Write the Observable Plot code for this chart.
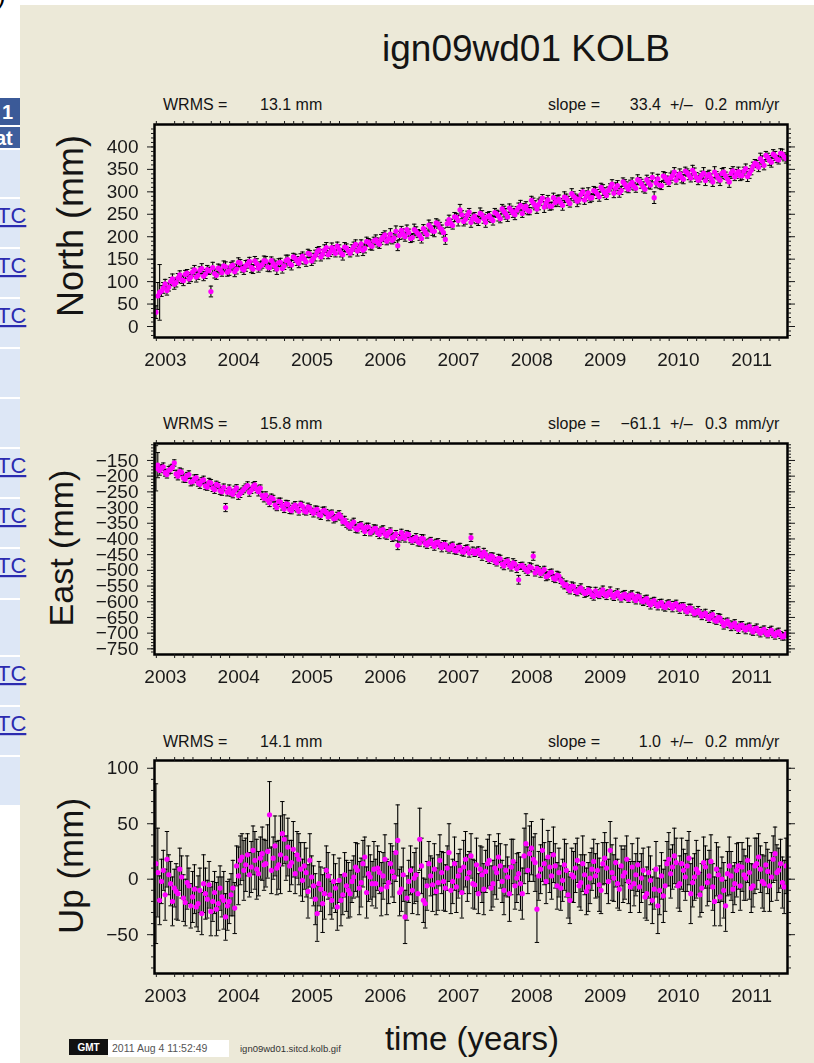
<!DOCTYPE html>
<html><head><meta charset="utf-8">
<script src="https://cdn.jsdelivr.net/npm/d3@7"></script>
<script src="https://cdn.jsdelivr.net/npm/@observablehq/plot@0.6"></script>
<style>
body{margin:0;width:814px;height:1063px;position:relative;overflow:hidden;background:#fff;font-family:"Liberation Sans",Arial,Helvetica,sans-serif;}
#bg{position:absolute;left:20px;top:5px;width:794px;height:1058px;background:#ECE9D8;}
.tbl{position:absolute;left:0;width:20px;overflow:hidden;}
.plot{position:absolute;left:0;filter:blur(0.35px);}
#overlay{position:absolute;left:0;top:0;}
</style></head><body>
<div id="bg"></div>
<div id="table"></div>
<div id="plots"></div>
<script>
// ---------------- data: epochs (decimal years), set A ----------------
const epochs = [
2002.87,2002.92,2002.97,2003.02,2003.07,2003.12,2003.17,2003.22,2003.27,2003.32,
2003.37,2003.42,2003.47,2003.52,2003.57,2003.62,2003.67,2003.72,2003.77,2003.82,
2003.87,2003.92,2003.97,2004.02,2004.07,2004.12,2004.17,2004.22,2004.27,2004.32,
2004.37,2004.42,2004.47,2004.52,2004.57,2004.62,2004.67,2004.72,2004.77,2004.82,
2004.87,2004.92,2004.97,2005.02,2005.07,2005.12,2005.17,2005.22,2005.27,2005.32,
2005.37,2005.42,2005.47,2005.52,2005.57,2005.62,2005.67,2005.72,2005.77,2005.82,
2005.87,2005.92,2005.97,2006.02,2006.07,2006.12,2006.17,2006.22,2006.27,2006.32,
2006.37,2006.42,2006.47,2006.52,2006.57,2006.62,2006.67,2006.72,2006.77,2006.82,
2006.87,2006.92,2006.97,2007.02,2007.07,2007.12,2007.17,2007.22,2007.27,2007.32,
2007.37,2007.42,2007.47,2007.52,2007.57,2007.62,2007.67,2007.72,2007.77,2007.82,
2007.87,2007.92,2007.97,2008.02,2008.07,2008.12,2008.17,2008.22,2008.27,2008.32,
2008.37,2008.42,2008.47,2008.52,2008.57,2008.62,2008.67,2008.72,2008.77,2008.82,
2008.87,2008.92,2008.97,2009.02,2009.07,2009.12,2009.17,2009.22,2009.27,2009.32,
2009.37,2009.42,2009.47,2009.52,2009.57,2009.62,2009.67,2009.72,2009.77,2009.82,
2009.87,2009.92,2009.97,2010.02,2010.07,2010.12,2010.17,2010.22,2010.27,2010.32,
2010.37,2010.42,2010.47,2010.52,2010.57,2010.62,2010.67,2010.72,2010.77,2010.82,
2010.87,2010.92,2010.97,2011.02,2011.07,2011.12,2011.17,2011.22,2011.27,2011.32,
2011.37,2011.42,2011.47];
// set B (the weeks in between)
const epochsB = [
2002.895,2002.945,2002.995,2003.045,2003.095,2003.145,2003.195,2003.245,2003.295,2003.345,
2003.395,2003.445,2003.495,2003.545,2003.595,2003.645,2003.695,2003.745,2003.795,2003.845,
2003.895,2003.945,2003.995,2004.045,2004.095,2004.145,2004.195,2004.245,2004.295,2004.345,
2004.395,2004.445,2004.495,2004.545,2004.595,2004.645,2004.695,2004.745,2004.795,2004.845,
2004.895,2004.945,2004.995,2005.045,2005.095,2005.145,2005.195,2005.245,2005.295,2005.345,
2005.395,2005.445,2005.495,2005.545,2005.595,2005.645,2005.695,2005.745,2005.795,2005.845,
2005.895,2005.945,2005.995,2006.045,2006.095,2006.145,2006.195,2006.245,2006.295,2006.345,
2006.395,2006.445,2006.495,2006.545,2006.595,2006.645,2006.695,2006.745,2006.795,2006.845,
2006.895,2006.945,2006.995,2007.045,2007.095,2007.145,2007.195,2007.245,2007.295,2007.345,
2007.395,2007.445,2007.495,2007.545,2007.595,2007.645,2007.695,2007.745,2007.795,2007.845,
2007.895,2007.945,2007.995,2008.045,2008.095,2008.145,2008.195,2008.245,2008.295,2008.345,
2008.395,2008.445,2008.495,2008.545,2008.595,2008.645,2008.695,2008.745,2008.795,2008.845,
2008.895,2008.945,2008.995,2009.045,2009.095,2009.145,2009.195,2009.245,2009.295,2009.345,
2009.395,2009.445,2009.495,2009.545,2009.595,2009.645,2009.695,2009.745,2009.795,2009.845,
2009.895,2009.945,2009.995,2010.045,2010.095,2010.145,2010.195,2010.245,2010.295,2010.345,
2010.395,2010.445,2010.495,2010.545,2010.595,2010.645,2010.695,2010.745,2010.795,2010.845,
2010.895,2010.945,2010.995,2011.045,2011.095,2011.145,2011.195,2011.245,2011.295,2011.345,
2011.395,2011.445];

// ---------------- North (mm) ----------------
const north = [
32,76,86,80,100,94,108,104,116,106,
121,110,125,112,127,78,118,130,120,133,
124,137,128,141,126,139,132,146,130,138,
145,131,140,128,143,135,149,137,152,141,
157,144,161,152,166,155,170,160,176,163,
172,160,175,163,178,168,184,174,188,179,
193,183,199,190,206,197,180,214,200,209,
198,212,203,218,205,221,212,228,216,194,
238,225,243,260,234,248,232,246,235,249,
232,247,236,251,240,256,244,259,249,265,
252,268,257,275,262,279,266,282,268,276,
283,270,286,274,290,279,294,282,298,287,
301,289,304,292,310,297,314,303,317,306,
321,308,324,311,327,315,287,329,314,332,
320,336,326,340,328,343,331,341,326,337,
325,339,322,337,326,344,329,341,333,345,
336,352,341,357,362,374,359,377,366,380,
371,384,374];
const northSig = [
14,62,12,10,9,11,10,8,9,10,
9,11,8,10,9,12,10,9,8,11,
10,9,11,8,10,9,12,10,9,8,
11,9,10,12,9,8,10,11,9,10,
9,10,8,11,10,9,12,9,10,8,
10,12,9,8,10,11,9,10,8,9,
11,9,10,8,12,10,11,9,10,8,
9,10,11,9,8,10,12,9,10,11,
10,8,9,12,10,9,11,8,10,9,
11,9,10,8,9,12,10,9,11,10,
9,10,8,11,10,9,12,10,8,9,
10,11,9,8,10,12,9,10,11,8,
9,10,12,9,8,10,11,9,10,8,
10,9,8,11,10,9,13,10,9,11,
8,10,9,11,10,8,9,12,10,9,
11,9,10,8,12,10,9,11,8,10,
9,10,11,9,8,12,10,9,11,10,
9,11,10];
const northB = [
68,79,95,88,106,98,115,102,119,110,
126,114,129,117,124,131,114,127,135,121,
134,122,143,129,135,145,128,140,135,147,
133,147,135,142,129,147,140,155,146,151,
150,163,146,158,170,161,176,165,170,179,
164,177,168,171,183,174,170,189,182,191,
187,194,204,196,192,212,203,206,216,196,
216,207,196,211,226,213,231,220,209,229,
230,244,236,249,239,255,241,238,252,240,
244,240,254,246,262,251,264,253,259,270,
263,259,281,270,272,286,275,268,287,280,
276,288,280,296,286,283,300,291,286,303,
295,310,298,303,317,308,298,322,311,316,
312,327,318,306,320,332,320,315,335,326,
331,344,335,332,346,337,348,333,331,342,
335,331,344,330,341,336,322,347,340,336,
346,334,348,364,355,368,381,370,384,373,
386,378];
const northSigB = [
30,12,10,9,11,10,9,11,8,10,
10,9,11,10,8,12,9,10,11,9,
9,11,10,8,12,9,10,11,9,10,
10,8,11,9,10,12,9,8,10,11,
11,9,10,12,8,10,11,9,10,9,
9,10,8,11,10,9,12,10,11,8,
10,11,9,10,8,12,9,11,10,9,
12,9,10,8,11,10,9,12,10,8,
9,10,12,9,11,8,10,9,12,10,
10,8,9,11,10,12,9,10,8,11,
11,10,9,10,12,8,11,9,10,12,
9,12,10,11,9,10,8,11,10,9,
10,9,11,8,10,12,10,9,11,10,
8,11,10,9,12,10,11,8,10,9,
11,10,8,12,9,10,11,10,9,12,
10,9,12,10,11,8,12,9,10,11,
9,11,10,8,10,12,9,11,10,8,
10,9];

// ---------------- East (mm) ----------------
const east = [
-175,-182,-170,-195,-178,-158,-200,-188,-210,-195,
-217,-205,-226,-212,-235,-222,-243,-230,-250,-300,
-240,-258,-237,-255,-242,-230,-245,-228,-250,-262,
-260,-285,-272,-300,-283,-305,-290,-310,-292,-312,
-296,-314,-302,-318,-306,-325,-309,-330,-318,-334,
-322,-345,-350,-362,-346,-370,-355,-376,-362,-374,
-366,-386,-370,-390,-375,-392,-420,-380,-398,-386,
-406,-395,-413,-400,-419,-405,-424,-410,-428,-418,
-433,-420,-438,-426,-442,-430,-396,-446,-436,-455,
-449,-466,-458,-476,-463,-486,-470,-490,-480,-530,
-484,-498,-488,-455,-494,-510,-498,-517,-506,-528,
-518,-540,-545,-565,-552,-570,-556,-574,-562,-578,
-565,-580,-562,-582,-566,-586,-571,-590,-576,-592,
-578,-596,-585,-600,-590,-610,-596,-614,-603,-618,
-604,-620,-606,-624,-613,-632,-620,-638,-628,-646,
-636,-655,-641,-662,-652,-676,-662,-680,-668,-688,
-674,-690,-678,-696,-684,-700,-688,-705,-690,-708,
-696,-712,-702];
const eastSig = [
72,15,12,11,13,10,12,11,10,12,
11,10,13,12,10,11,12,10,11,13,
12,11,10,13,11,12,10,11,13,12,
10,12,11,10,13,11,12,10,11,12,
13,10,11,12,10,13,11,12,10,11,
12,11,13,10,12,11,10,13,12,11,
10,13,12,11,10,12,14,11,12,10,
11,12,10,13,11,10,12,11,13,12,
12,10,11,12,13,11,12,10,11,13,
11,12,13,10,11,12,10,12,11,14,
10,11,12,13,10,12,11,13,10,11,
12,13,11,10,12,11,13,12,10,11,
11,10,12,11,13,10,12,11,12,10,
13,11,10,12,11,13,10,12,11,12,
10,12,11,13,10,11,12,10,13,11,
12,11,13,10,12,11,10,12,11,13,
11,12,10,11,13,12,11,10,12,11,
12,10,11];
const eastB = [
-165,-176,-189,-181,-172,-193,-185,-206,-198,-219,
-208,-221,-215,-231,-220,-238,-226,-246,-236,-251,
-253,-245,-262,-248,-236,-251,-233,-242,-238,-270,
-276,-268,-292,-280,-296,-288,-306,-298,-303,-290,
-310,-298,-312,-308,-322,-311,-316,-322,-336,-327,
-330,-340,-357,-352,-366,-358,-366,-362,-380,-368,
-380,-373,-384,-380,-396,-384,-398,-391,-384,-402,
-400,-409,-398,-414,-410,-416,-412,-421,-417,-428,
-426,-436,-427,-440,-432,-445,-438,-440,-449,-442,
-460,-454,-470,-462,-480,-472,-484,-476,-495,-486,
-492,-504,-492,-508,-500,-504,-520,-508,-524,-515,
-532,-548,-558,-550,-566,-561,-566,-572,-567,-583,
-574,-570,-576,-572,-579,-576,-582,-580,-585,-580,
-590,-582,-597,-594,-603,-600,-608,-605,-615,-610,
-612,-609,-618,-614,-626,-620,-630,-634,-637,-640,
-648,-645,-658,-650,-664,-668,-672,-674,-681,-676,
-684,-682,-690,-686,-694,-692,-699,-695,-702,-699,
-706,-710];
const eastSigB = [
40,13,11,12,10,12,11,13,10,12,
12,11,10,12,13,11,10,12,11,12,
11,13,12,10,11,13,12,11,10,12,
13,11,12,10,12,11,13,12,11,10,
11,12,10,13,11,12,10,11,13,12,
10,12,11,12,13,10,11,12,10,13,
12,11,13,10,12,11,12,13,11,10,
11,13,12,11,10,12,11,10,12,11,
13,11,10,12,11,13,12,11,10,12,
12,10,11,13,12,10,11,13,12,11,
11,12,13,10,12,11,13,10,11,12,
10,11,12,13,11,12,10,11,13,12,
12,13,11,10,12,11,12,13,10,11,
11,12,10,13,12,11,10,12,11,13,
13,10,12,11,10,12,13,11,12,10,
11,12,10,12,11,13,11,12,10,12,
12,11,13,10,12,11,10,13,11,12,
11,12];

// ---------------- Up (mm) ----------------
const up = [
14,-19,8,18,-4,-8,-13,2,-21,-6,
-16,-25,-10,-4,-18,-29,-12,-22,-16,-34,
-20,-8,12,17,8,22,11,17,5,23,
14,58,19,10,22,36,29,15,5,18,
-1,6,17,-6,-31,-9,-13,3,-19,-8,
-1,-14,-6,-13,2,8,-3,20,5,-4,
-4,6,3,-7,14,2,35,-9,-34,-2,
-10,4,36,-19,-6,3,9,-3,6,-8,
24,-2,-7,8,11,1,21,-5,-13,4,
7,17,-4,6,12,-10,2,11,-6,5,
-13,32,23,18,-27,9,14,20,3,12,
6,-1,8,-19,2,17,-3,4,-7,9,
3,-5,14,10,26,1,-4,12,6,-2,
11,4,-7,8,-13,-1,-9,-24,3,-6,
18,11,15,-4,8,12,-13,2,6,-8,
11,3,-7,9,-16,-10,5,3,-4,12,
11,1,6,-6,14,9,-4,7,2,23,
8,-3,12];
const upSig = [
72,22,18,25,20,17,24,19,21,16,
23,18,20,26,17,22,19,24,18,21,
20,25,18,22,27,19,23,26,20,24,
21,30,19,24,35,22,26,20,18,23,
19,22,24,18,25,20,23,21,17,22,
20,18,23,21,19,24,22,18,25,20,
22,19,21,25,18,23,32,20,24,19,
21,24,28,20,22,18,23,25,19,21,
26,20,23,19,24,21,20,22,18,25,
19,23,21,24,20,22,18,25,21,19,
23,27,25,20,30,22,19,24,21,20,
22,19,24,21,23,20,25,18,22,19,
20,24,19,23,26,21,22,18,24,20,
21,19,23,20,24,22,18,25,21,23,
24,20,22,25,19,23,27,21,20,22,
19,23,21,24,26,25,20,22,19,21,
22,20,24,19,23,21,25,20,22,24,
20,23,25];
const upB = [
6,-2,-14,4,-20,-11,9,-17,-3,-24,
-9,-22,-31,-13,-5,-20,-27,-8,-19,-24,
-14,-26,3,20,13,4,26,9,19,13,
25,8,30,13,41,19,12,27,22,9,
12,-11,2,-18,-4,-22,8,-14,-2,-25,
-19,4,-10,-2,11,-8,14,-12,2,9,
10,-9,18,-3,7,24,-12,4,-17,8,
1,-13,12,-22,14,-5,-11,17,-2,10,
-10,14,3,-12,18,6,-4,13,9,-9,
14,-8,10,20,-2,8,-13,16,1,-4,
21,8,28,15,3,26,-2,11,22,-6,
-8,13,-14,4,10,-6,14,-11,1,16,
8,-10,19,-2,6,15,-9,3,18,-7,
-4,13,1,-16,6,-19,9,-10,-15,14,
5,21,-6,14,2,19,-3,9,-14,15,
-3,16,-20,4,0,-24,12,-9,8,-6,
4,17,-8,12,20,-2,13,-6,18,6,
14,-7];
const upSigB = [
40,20,23,18,22,25,19,21,24,20,
22,25,19,23,21,18,24,20,26,22,
19,23,26,21,24,20,22,27,19,23,
24,21,27,22,29,20,23,25,21,24,
21,24,19,23,20,26,22,18,24,21,
23,20,25,19,22,24,21,23,20,25,
20,24,22,19,23,26,21,24,20,22,
23,19,25,22,20,24,21,23,26,20,
21,24,20,23,25,19,22,24,21,23,
22,20,24,21,19,23,25,20,22,24,
25,21,24,26,22,28,20,23,25,21,
20,23,21,24,22,19,25,21,23,20,
24,21,23,20,25,22,19,24,21,23,
20,24,22,19,23,21,25,22,24,20,
22,25,20,23,21,24,22,26,20,23,
21,24,22,25,20,23,26,21,24,22,
23,20,22,25,21,24,20,23,21,25,
22,24];

const yearTicks = [2003,2004,2005,2006,2007,2008,2009,2010,2011];
const northTicks = [0,50,100,150,200,250,300,350,400];
const eastTicks = [-750,-700,-650,-600,-550,-500,-450,-400,-350,-300,-250,-200,-150];
const upTicks = [-50,0,50,100];

const stationTitle = "ign09wd01 KOLB";
const panelsInfo = [
  {wrms: "13.1 mm", slope: "33.4", err: "0.2"},
  {wrms: "15.8 mm", slope: "\u221261.1", err: "0.3"},
  {wrms: "14.1 mm", slope: "1.0", err: "0.2"}
];
const yTitles = ["North (mm)", "East (mm)", "Up (mm)"];

// ---------------- drawing ----------------
const FONT = '"Liberation Sans", Arial, Helvetica, sans-serif';
const xDomain = [2002.85, 2011.49];
const minorX = d3.range(Math.ceil(xDomain[0]*8), Math.floor(xDomain[1]*8)+1)
  .filter(k => k % 4 !== 0).map(k => k/8);
const hbar = {draw(ctx){ ctx.moveTo(-2.2,0); ctx.lineTo(2.2,0); }};
const fmt = d => d < 0 ? "\u2212" + Math.abs(d) : String(d);
const blank = () => "";

function toRows(ts, vals, sig) {
  return ts.map((t,i) => ({t, v: vals[i], lo: vals[i]-sig[i], hi: vals[i]+sig[i]}));
}

function panel(rows, domain, majorY, minorStep, top, height, r) {
  const minorY = d3.range(Math.ceil(domain[0]/minorStep)*minorStep, domain[1], minorStep);
  const p = Plot.plot({
    width: 807, height, marginLeft: 154, marginRight: 20, marginTop: 24, marginBottom: 40,
    style: {background: "transparent", fontFamily: FONT, color: "#1a1a1a", overflow: "visible"},
    x: {domain: xDomain, axis: null},
    y: {domain, axis: null},
    marks: [
      Plot.ruleX(rows, {x: "t", y1: "lo", y2: "hi", stroke: "#000", strokeWidth: 1.1}),
      Plot.dot(rows, {x: "t", y: "lo", symbol: hbar, stroke: "#000", strokeWidth: 1, r: 3}),
      Plot.dot(rows, {x: "t", y: "hi", symbol: hbar, stroke: "#000", strokeWidth: 1, r: 3}),
      Plot.dot(rows, {x: "t", y: "v", r, fill: "#ff00ff", stroke: "none"}),
      Plot.frame({stroke: "#000", strokeWidth: 2.5}),
      Plot.axisX({anchor: "bottom", ticks: yearTicks, tickFormat: d => String(d), tickSize: 0, tickPadding: 15, fontSize: 19, label: null}),
      Plot.axisX({anchor: "bottom", ticks: minorX, tickSize: 4, tickFormat: blank, label: null}),
      Plot.axisX({anchor: "top", ticks: minorX, tickSize: 4, tickFormat: blank, label: null}),
      Plot.axisY({anchor: "left", ticks: majorY, tickSize: 7, tickPadding: 9, tickFormat: fmt, fontSize: 19, label: null}),
      Plot.axisY({anchor: "left", ticks: minorY, tickSize: 3, tickFormat: blank, label: null}),
      Plot.axisY({anchor: "right", ticks: majorY, tickSize: 7, tickFormat: blank, label: null}),
      Plot.axisY({anchor: "right", ticks: minorY, tickSize: 3, tickFormat: blank, label: null})
    ]
  });
  p.classList.add("plot");
  p.style.top = top + "px";
  document.getElementById("plots").appendChild(p);
}

const northRows = toRows(epochs, north, northSig).concat(toRows(epochsB, northB, northSigB));
const eastRows = toRows(epochs, east, eastSig).concat(toRows(epochsB, eastB, eastSigB));
const upRows = toRows(epochs, up, upSig).concat(toRows(epochsB, upB, upSigB));
panel(northRows, [-24.5, 450], northTicks, 10, 100, 277, 2.6);
panel(eastRows, [-768, -96], eastTicks, 10, 419, 275, 2.6);
panel(upRows, [-85, 107], upTicks, 10, 736, 277, 2.6);

// ---------------- left table fragment ----------------
const tbl = document.getElementById("table");
function box(top, h, bg) {
  const d = document.createElement("div");
  d.className = "tbl"; d.style.top = top + "px"; d.style.height = h + "px"; d.style.background = bg;
  tbl.appendChild(d); return d;
}
box(98, 27, "#3b5a98");
box(127, 21, "#3f5e9c");
const rowTops = [148,197,247,297,347,397,447,497,547,598,655,705,755];
rowTops.forEach((t,i) => {
  const end = i < rowTops.length-1 ? rowTops[i+1] : 805;
  box(t+2, end-t-2, "#dde7f6");
});

// ---------------- overlay text ----------------
const svg = d3.select("body").append("svg").attr("id","overlay")
  .attr("width",814).attr("height",1063).style("font-family", FONT);
function txt(x, y, s, size, anchor, opts={}) {
  const t = svg.append("text").attr("x",x).attr("y",y).attr("font-size",size)
    .attr("text-anchor",anchor||"start").attr("fill",opts.fill||"#141414").text(s);
  if (opts.weight) t.attr("font-weight",opts.weight);
  if (opts.rotate) t.attr("transform",`rotate(-90 ${x} ${y})`);
  if (opts.deco) t.attr("text-decoration",opts.deco);
  return t;
}
// table texts
txt(2, 119, "1", 20, "start", {fill:"#fff", weight:"bold"});
txt(-5, 145, "at", 20, "start", {fill:"#fff", weight:"bold"});
[197,247,297,447,497,547,655,705].forEach(t => txt(-3, t+26, "TC", 22, "start", {fill:"#2b2bb0", deco:"underline"}));
txt(-3, 4, ")", 26, "start", {fill:"#000"});

// title
txt(526, 61, stationTitle, 37, "middle");
// panel headers
const headerBase = [110, 429, 747];
panelsInfo.forEach((p,i) => {
  const y = headerBase[i];
  txt(163, y, "WRMS =", 16);
  txt(260, y, p.wrms, 16);
  txt(548, y, "slope =", 16);
  txt(661, y, p.slope, 16, "end");
  txt(670, y, "+/\u2013", 16);
  txt(705, y, p.err, 16);
  txt(735, y, "mm/yr", 16);
});
// y titles
const yPos = [[83, 226, 36], [73, 548, 34], [83, 866, 35]];
yTitles.forEach((s,i) => {
  const [x,y,sz] = yPos[i];
  txt(x, y, s, sz, "middle", {rotate:true});
});
// x title
txt(472, 1050, "time (years)", 33, "middle");
// footer
svg.append("rect").attr("x",69).attr("y",1039).attr("width",39).attr("height",16).attr("fill","#111");
txt(88.5, 1051, "GMT", 10, "middle", {fill:"#fff", weight:"bold"});
svg.append("rect").attr("x",108).attr("y",1040).attr("width",121).attr("height",17).attr("fill","#fff");
txt(112, 1052, "2011 Aug  4 11:52:49", 10.5, "start", {fill:"#555"});
txt(240, 1052, "ign09wd01.sitcd.kolb.gif", 9.5, "start", {fill:"#333"});
</script>
</body></html>
